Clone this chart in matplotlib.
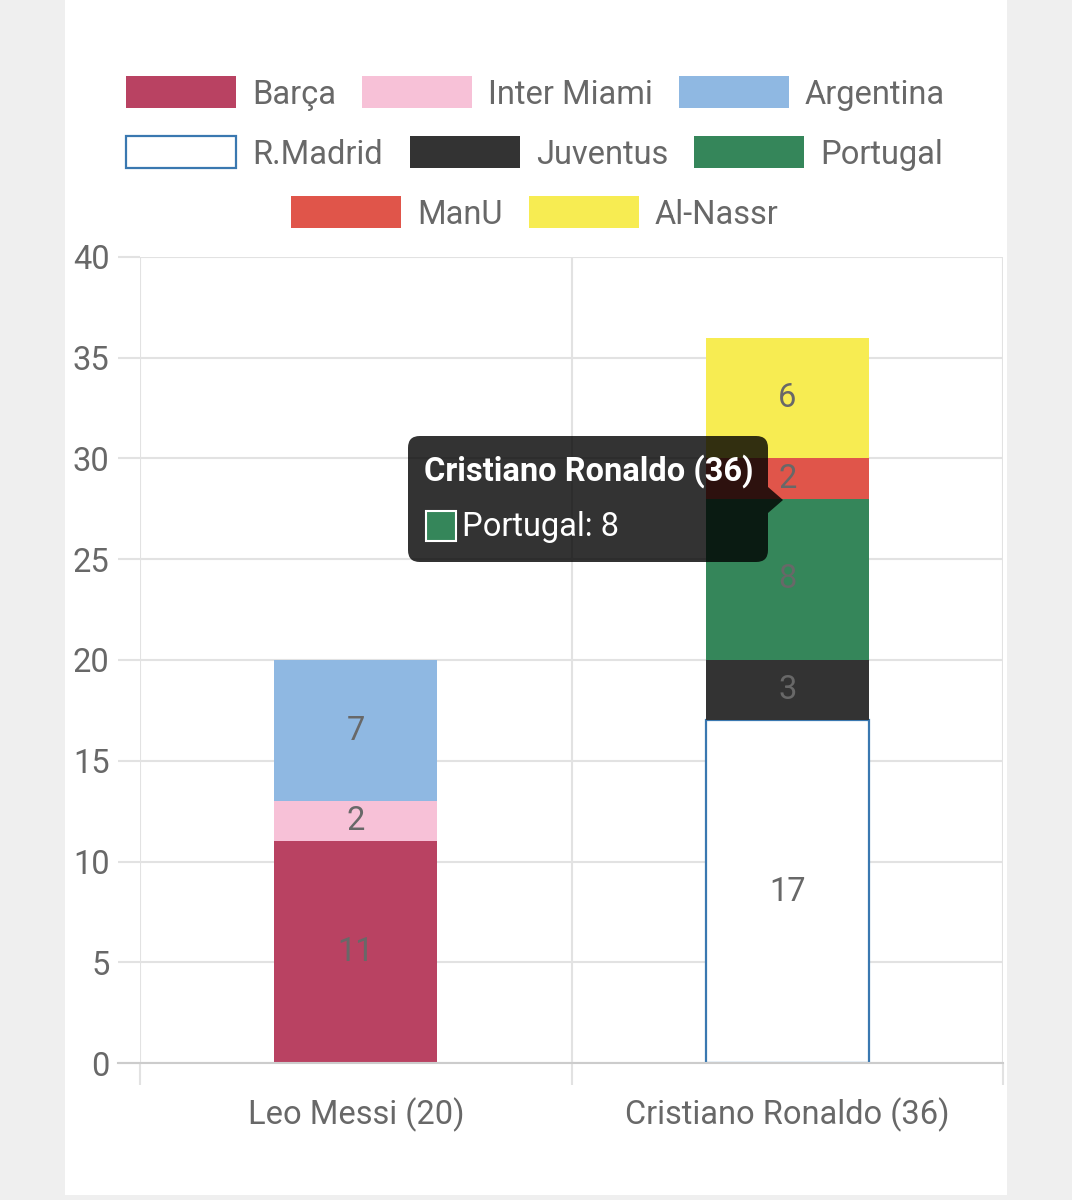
import numpy as np
import matplotlib
matplotlib.use('Agg')
import matplotlib.pyplot as plt
from matplotlib.patches import Rectangle, FancyBboxPatch, Polygon

# data
players = ['Leo Messi', 'Cristiano Ronaldo']
clubs = ['Barça', 'Inter Miami', 'Argentina', 'R.Madrid', 'Juventus', 'Portugal', 'ManU', 'Al-Nassr']
goals = {
    'Barça':       [11, 0],
    'Inter Miami': [2, 0],
    'Argentina':   [7, 0],
    'R.Madrid':    [0, 17],
    'Juventus':    [0, 3],
    'Portugal':    [0, 8],
    'ManU':        [0, 2],
    'Al-Nassr':    [0, 6],
}
fills = ['#b94262', '#f7c1d7', '#8fb8e2', '#ffffff', '#333333', '#35865a', '#e0554a', '#f7ec52']
edges = ['#b94262', '#f7c1d7', '#8fb8e2', '#3a78b0', '#333333', '#35865a', '#e0554a', '#f7ec52']

totals = np.sum([goals[c] for c in clubs], axis=0)
xlabels = ['%s (%d)' % (p, t) for p, t in zip(players, totals)]

plt.rcParams['font.family'] = ['Roboto', 'DejaVu Sans']
FS = 23.5
TXT = '#686868'
W, H = 1072, 1200
def fx(px):
    return px / W
def fy(py):
    return 1 - py / H

fig = plt.figure(figsize=(W / 100, H / 100), dpi=100)
fig.patch.set_facecolor('#efefef')
fig.patches.append(Rectangle((fx(65), fy(1195)), fx(1007) - fx(65), fy(0) - fy(1195),
                             transform=fig.transFigure, fc='white', ec='none', zorder=-5))

ax = fig.add_axes([fx(140), fy(1063), fx(1003) - fx(140), fy(257) - fy(1063)])
ax.set_facecolor('none')
ax.set_xlim(0, 2)
ax.set_ylim(0, 40)

xs = np.array([0.5, 1.5])
bottom = np.zeros(2)
for c, fc, ec in zip(clubs, fills, edges):
    vals = np.array(goals[c], dtype=float)
    lw = np.where(vals > 0, 1.6 if fc == '#ffffff' else 0, 0)
    ax.bar(xs, vals, width=0.378, bottom=bottom, color=fc, edgecolor=ec, linewidth=lw, zorder=3)
    for x, v, b in zip(xs, vals, bottom):
        if v > 0:
            ax.text(x, b + v / 2, '%d' % v, ha='center', va='center', fontsize=FS,
                    color=TXT, zorder=4)
    bottom += vals

# axes styling
for s in ax.spines.values():
    s.set_visible(False)
ax.set_yticks(np.arange(0, 41, 5))
ax.set_xticks([0, 1, 2])
ax.set_xticklabels([])
ax.set_xticks(xs, minor=True)
ax.set_xticklabels(xlabels, minor=True)
ax.grid(True, which='major', color='#e2e2e2', linewidth=1.5, zorder=0)
ax.tick_params(axis='y', length=16, width=1.5, color='#e2e2e2', pad=6, labelsize=FS, labelcolor=TXT)
ax.tick_params(axis='x', which='major', length=16, width=1.5, color='#e2e2e2')
ax.tick_params(axis='x', which='minor', length=0, pad=25, labelsize=FS, labelcolor=TXT)
ax.plot([-22 / 431.5, 2], [0, 0], color='#cccccc', lw=1.5, clip_on=False, zorder=5)

# legend
legend_items = [
    (126, 92, 0), (362, 92, 1), (679, 92, 2),
    (126, 152, 3), (410, 152, 4), (694, 152, 5),
    (291, 212, 6), (529, 212, 7),
]
for (lx, ly, i) in legend_items:
    fig.patches.append(Rectangle((fx(lx), fy(ly + 16)), fx(110), 32 / H, transform=fig.transFigure,
                                 fc=fills[i], ec=edges[i], lw=1.6 if i == 3 else 0, zorder=2))
    fig.text(fx(lx + 126), fy(ly + 3), clubs[i], ha='left', va='center', fontsize=FS, color=TXT)

# tooltip
tip = FancyBboxPatch((fx(408), fy(562)), fx(768) - fx(408), fy(436) - fy(562),
                     boxstyle='round,pad=0,rounding_size=0.011', transform=fig.transFigure,
                     fc=(0, 0, 0, 0.8), ec='none', zorder=10, mutation_aspect=W / H)
fig.patches.append(tip)
fig.patches.append(Polygon([(fx(768), fy(487)), (fx(783), fy(500)), (fx(768), fy(513))],
                           closed=True, transform=fig.transFigure, fc=(0, 0, 0, 0.8), ec='none', zorder=10))
fig.text(fx(424), fy(471), xlabels[1], ha='left', va='center', fontsize=FS, fontweight='bold',
         color='white', zorder=11)
fig.patches.append(Rectangle((fx(426), fy(541)), fx(30), 30 / H, transform=fig.transFigure,
                             fc=fills[5], ec='white', lw=1.5, zorder=11))
fig.text(fx(462), fy(527), 'Portugal: %d' % goals['Portugal'][1], ha='left', va='center',
         fontsize=FS, color='white', zorder=11)

fig.savefig('out.png', dpi=100, facecolor=fig.get_facecolor())
